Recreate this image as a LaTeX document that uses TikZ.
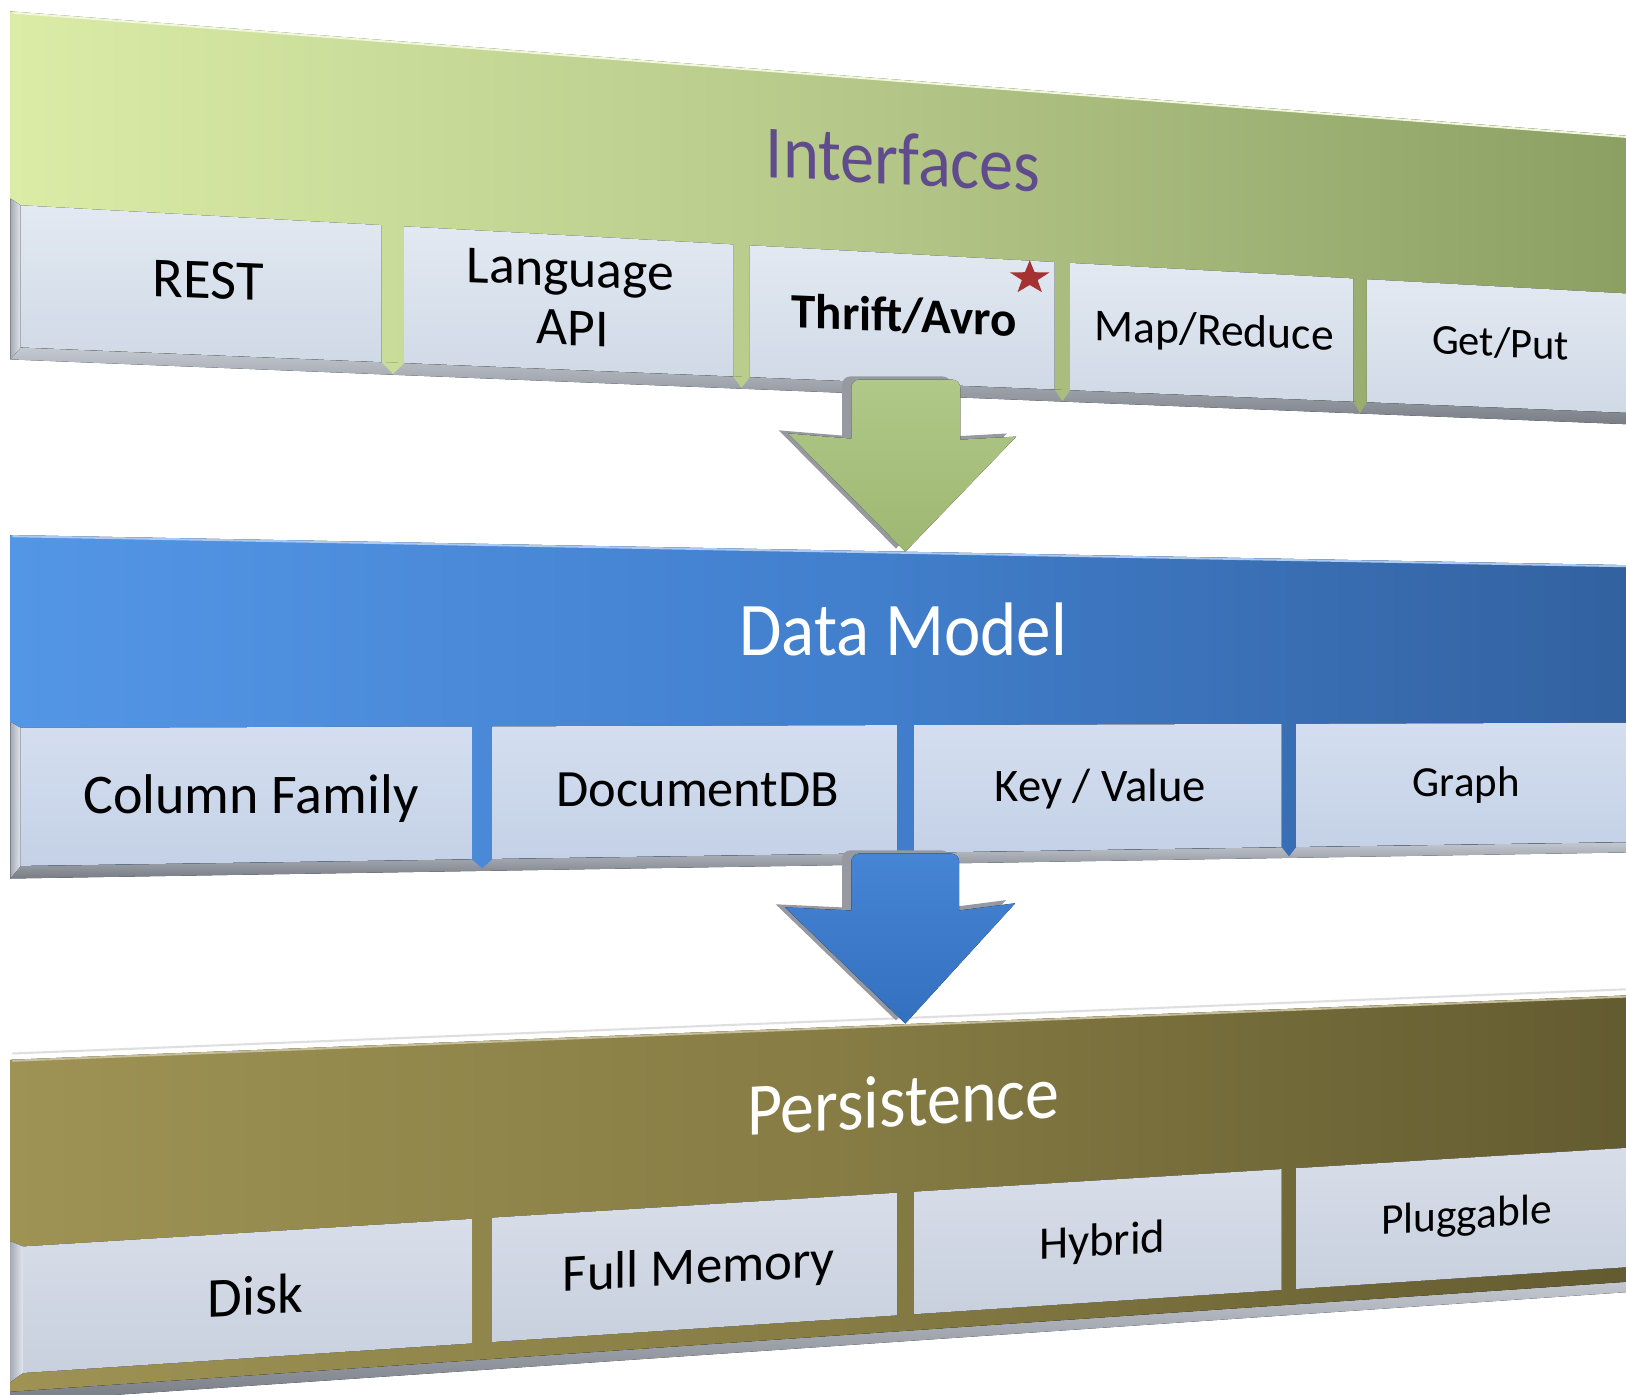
\documentclass[tikz,border=0pt]{standalone}
\usepackage{fontspec}
\newfontfamily\cf{Carlito}
\usetikzlibrary{shapes.geometric}
\newcommand\fsz[1]{\cf\fontsize{#1}{#1}\selectfont}
\definecolor{gL}{RGB}{218,236,166}
\definecolor{gM}{RGB}{182,201,138}
\definecolor{gR}{RGB}{138,158,98}
\definecolor{bL}{RGB}{84,150,230}
\definecolor{bM}{RGB}{66,128,206}
\definecolor{bR}{RGB}{50,96,158}
\definecolor{oL}{RGB}{158,147,84}
\definecolor{oM}{RGB}{134,124,68}
\definecolor{oR}{RGB}{98,90,48}
\definecolor{shT}{RGB}{196,201,210}
\definecolor{shB}{RGB}{120,124,132}
\definecolor{bxAT}{RGB}{226,233,242}
\definecolor{bxAB}{RGB}{208,217,230}
\definecolor{bxBT}{RGB}{212,222,240}
\definecolor{bxBB}{RGB}{196,209,230}
\definecolor{bxCT}{RGB}{216,222,233}
\definecolor{bxCB}{RGB}{200,208,222}
\definecolor{lvL}{RGB}{165,170,180}
\definecolor{lvR}{RGB}{225,230,238}
\definecolor{purp}{RGB}{96,76,140}
\definecolor{starred}{RGB}{165,50,50}
\definecolor{agT}{RGB}{176,200,136}
\definecolor{agB}{RGB}{158,184,114}
\definecolor{abT}{RGB}{70,132,212}
\definecolor{abB}{RGB}{52,112,192}
\definecolor{ashd}{RGB}{150,153,160}
\begin{document}
\begin{tikzpicture}[x=1pt,y=-1pt,
  declare function={
    tA(\x)=11+0.077*(\x-10);
    uA(\x)=198+0.0549*(\x-20);
    vA(\x)=335+0.0407*(\x-20);
    tB(\x)=516+0.01861*(\x-10);
    uB(\x)=702-0.00323*(\x-20);
    vB(\x)=835-0.01486*(\x-20);
    tC(\x)=1022-0.0398*(\x-10);
    uC(\x)=1202-0.06145*(\x-22);
    vC(\x)=1324-0.06598*(\x-22);
    wC(\x)=1342-0.068*(\x-10);
  },
  itm/.style={inner sep=0pt, anchor=base, text=black},
  hdr/.style={inner sep=0pt, anchor=base, yscale=1.1},
  shadowstrip/.style={top color=shT, bottom color=shB},
  bevel/.style={left color=lvL, right color=lvR},
  greenband/.style={left color=gL, right color=gR, middle color=gM},
  blueband/.style={left color=bL, right color=bR, middle color=bM},
  oliveband/.style={left color=oL, right color=oR, middle color=oM},
  boxa/.style={top color=bxAT, bottom color=bxAB},
  boxb/.style={top color=bxBT, bottom color=bxBB},
  boxc/.style={top color=bxCT, bottom color=bxCB},
]
\useasboundingbox (0,0) rectangle (1568,1345);
\fill[white] (0,0) rectangle (1568,1345);

% ---------------- Band 1: Interfaces ----------------
\fill[shadowstrip] (10,{vA(10)}) -- (1600,{vA(1600)}) -- (1600,{vA(1600)+11}) -- (10,{vA(10)+12}) -- cycle;
\fill[greenband] (10,{tA(10)}) -- (1600,{tA(1600)}) -- (1600,{vA(1600)}) -- (10,{vA(10)}) -- cycle;
\draw[gL!40!white, line width=2] (12,{tA(12)+1}) -- (1600,{tA(1600)+1});
\foreach \a/\b in {20/368,390/707,723/1017,1032/1305,1318/1600}
  \fill[boxa] (\a,{uA(\a)}) -- (\b,{uA(\b)}) -- (\b,{vA(\b)}) -- (\a,{vA(\a)}) -- cycle;
\foreach \a/\b/\c in {368/390/gL!54!gM, 707/723/gL!11!gM, 1017/1032/gM!72!gR, 1305/1318/gM!36!gR}
  \fill[fill=\c] (\a,{vA(\a)}) -- (\b,{vA(\b)}) -- ({(\a+\b)/2},{vA((\a+\b)/2)+11}) -- cycle;
\fill[bevel] (10,{uA(10)-6}) -- (20,{uA(20)}) -- (20,{vA(20)}) -- (10,{vA(10)+12}) -- cycle;

% ---------------- Band 2: Data Model ----------------
\fill[shadowstrip] (10,{vB(10)}) -- (1600,{vB(1600)}) -- (1600,{vB(1600)+10}) -- (10,{vB(10)+12}) -- cycle;
\fill[blueband] (10,{tB(10)}) -- (1600,{tB(1600)}) -- (1600,{vB(1600)}) -- (10,{vB(10)}) -- cycle;
\draw[bL!50!white, line width=2] (12,{tB(12)+1}) -- (1600,{tB(1600)+1});
\foreach \a/\b in {20/455,475/865,882/1236,1250/1600}
  \fill[boxb] (\a,{uB(\a)}) -- (\b,{uB(\b)}) -- (\b,{vB(\b)}) -- (\a,{vB(\a)}) -- cycle;
\foreach \a/\b/\c in {455/475/bL!43!bM, 865/882/bM!91!bR, 1236/1250/bM!45!bR}
  \fill[fill=\c] (\a,{vB(\a)}) -- (\b,{vB(\b)}) -- ({(\a+\b)/2},{vB((\a+\b)/2)+9}) -- cycle;
\fill[bevel] (10,{uB(10)-6}) -- (20,{uB(20)}) -- (20,{vB(20)}) -- (10,{vB(10)+12}) -- cycle;

% ---------------- Band 3: Persistence ----------------
\draw[gray!25, line width=2] (12,{tC(12)-6}) -- (1600,{tC(1600)-6});
\fill[shadowstrip] (10,{wC(10)}) -- (1600,{wC(1600)}) -- (1600,{wC(1600)+10}) -- (10,{wC(10)+10}) -- cycle;
\fill[oliveband] (10,{tC(10)}) -- (1600,{tC(1600)}) -- (1600,{wC(1600)}) -- (10,{wC(10)}) -- cycle;
\draw[oL!60!white, line width=2] (12,{tC(12)+1}) -- (1600,{tC(1600)+1});
\foreach \a/\b in {22/455,475/865,882/1236,1250/1600}
  \fill[boxc] (\a,{uC(\a)}) -- (\b,{uC(\b)}) -- (\b,{vC(\b)}) -- (\a,{vC(\a)}) -- cycle;
\fill[bevel] (10,{uC(10)-6}) -- (22,{uC(22)}) -- (22,{vC(22)}) -- (10,{vC(10)+8}) -- cycle;

% ---------------- Arrows ----------------
\begin{scope}[shift={(-9,-3)}]
  \fill[ashd] (821,423) -- (760,418) -- (873,532) -- (980,421) -- (926,424) -- (926,400) [rounded corners=8] -- (926,366) -- (821,366) -- (821,400) [sharp corners] -- cycle;
  \fill[ashd] (821,878) -- (757,875) -- (873,987) -- (979,871) -- (925,878) -- (925,850) [rounded corners=8] -- (925,823) -- (821,823) -- (821,850) [sharp corners] -- cycle;
\end{scope}
\fill[top color=agT, bottom color=agB] (821,423) -- (760,418) -- (873,532) -- (980,421) -- (926,424) -- (926,400) [rounded corners=8] -- (926,366) -- (821,366) -- (821,400) [sharp corners] -- cycle;
\fill[top color=abT, bottom color=abB] (821,878) -- (757,875) -- (873,987) -- (979,871) -- (925,878) -- (925,850) [rounded corners=8] -- (925,823) -- (821,823) -- (821,850) [sharp corners] -- cycle;

% ---------------- Texts ----------------
\node[hdr, font={\fsz{66}}, text=purp, yslant=-0.05] (interfaces) at (871,178) {Interfaces};
\node[itm, font={\fsz{54.6}}, yslant=-0.04] (rest) at (201,288) {REST};
\node[itm, font={\fsz{51.7}}, yslant=-0.04] (lang) at (550,276) {Language};
\node[itm, font={\fsz{51.7}}, yslant=-0.04] (api) at (552,333) {API};
\node[itm, font={\fsz{47.3}\bfseries}, yslant=-0.04] (thrift) at (872,320) {Thrift/Avro};
\node[itm, font={\fsz{44}}, yslant=-0.041] (mapred) at (1171,333) {Map/Reduce};
\node[itm, font={\fsz{41}}, yslant=-0.045] (getput) at (1447,344) {Get/Put};
\node[star, star points=5, star point ratio=2.5, fill=starred, inner sep=0pt, minimum size=40pt, yscale=0.85] (star) at (993,268) {};

\node[hdr, font={\fsz{66.5}}, text=white] (datamodel) at (871,632) {Data Model};
\node[itm, font={\fsz{54}}] (colfam) at (242,784) {Column Family};
\node[itm, font={\fsz{50.5}}] (docdb) at (673,778) {DocumentDB};
\node[itm, font={\fsz{45}}] (keyval) at (1061,773) {Key / Value};
\node[itm, font={\fsz{41.4}}] (graph) at (1414,768) {Graph};

\node[hdr, font={\fsz{65.5}}, text=white, yslant=0.053] (persist) at (871,1086) {Persistence};
\node[itm, font={\fsz{54.4}}, yslant=0.05] (disk) at (246,1268) {Disk};
\node[itm, font={\fsz{50.9}}, yslant=0.056] (fullmem) at (674,1238) {Full Memory};
\node[itm, font={\fsz{45}}, yslant=0.062] (hybrid) at (1063,1211) {Hybrid};
\node[itm, font={\fsz{41.8}}, yslant=0.067] (plug) at (1414,1185) {Pluggable};
\end{tikzpicture}
\end{document}
